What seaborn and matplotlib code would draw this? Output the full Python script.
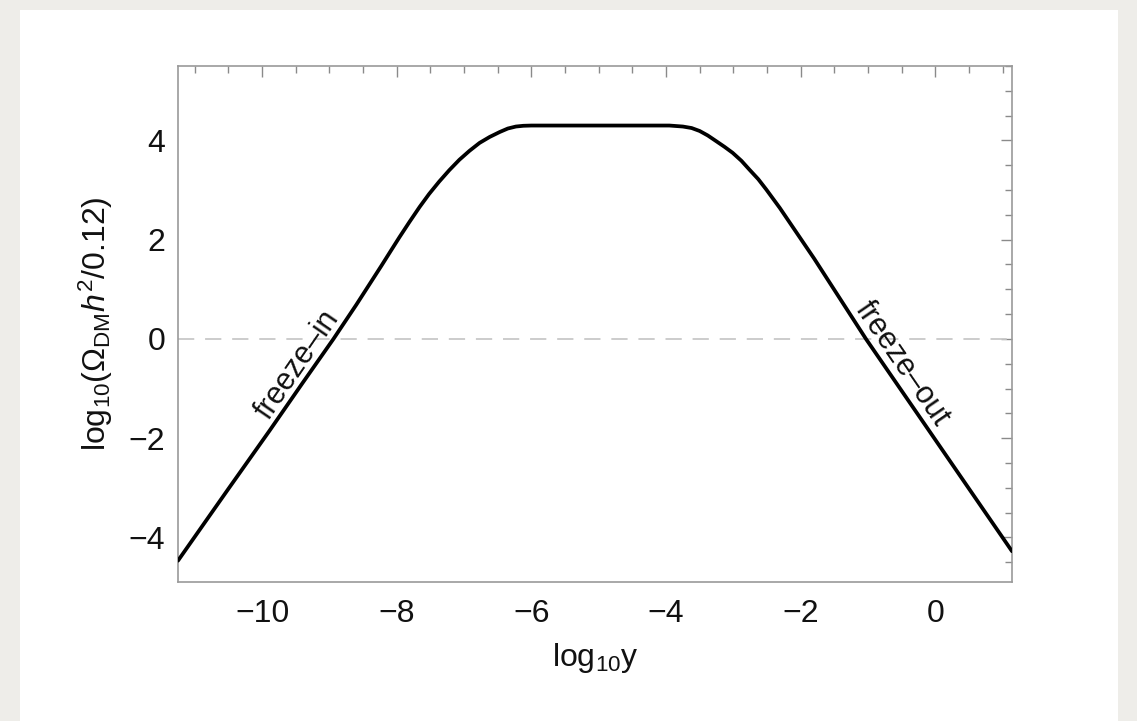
import matplotlib
matplotlib.use("Agg")
import matplotlib.pyplot as plt
from matplotlib.patches import Rectangle
from matplotlib.ticker import MultipleLocator, FixedLocator
import seaborn as sns

# Relic abundance curve: log10(Omega h^2 / 0.12) versus log10 y
log_y = [-11.25, -10.50, -9.89, -9.40, -8.94, -8.60, -8.23, -8.10, -7.96,
         -7.81, -7.66, -7.52, -7.37, -7.22, -7.07, -6.92, -6.77, -6.62,
         -6.47, -6.35, -6.23, -6.12, -6.00, -3.95, -3.75, -3.62, -3.50,
         -3.38, -3.26, -3.13, -3.01, -2.88, -2.76, -2.63, -2.51, -2.31,
         -2.12, -1.80, -1.03, 1.14]
log_omega = [-4.47, -3.02, -1.85, -0.89, 0.00, 0.69, 1.47, 1.75, 2.05,
             2.36, 2.66, 2.92, 3.17, 3.40, 3.61, 3.79, 3.95, 4.07,
             4.17, 4.24, 4.28, 4.295, 4.30, 4.30, 4.28, 4.25, 4.19,
             4.10, 3.99, 3.87, 3.75, 3.59, 3.41, 3.22, 3.01, 2.64,
             2.26, 1.62, 0.00, -4.28]

x_major = [-10, -8, -6, -4, -2, 0]
y_major = [-4, -2, 0, 2, 4]
regime_labels = ["freeze\u2013in", "freeze\u2013out"]
regime_pos = [(-9.47, -0.52), (-0.50, -0.50)]
regime_rot = [55.5, -55.5]

sns.set_theme(style="white")
plt.rcParams["font.family"] = ["Liberation Sans", "DejaVu Sans"]
plt.rcParams["mathtext.fontset"] = "custom"
plt.rcParams["mathtext.rm"] = "Liberation Sans"
plt.rcParams["mathtext.it"] = "Liberation Sans:italic"
plt.rcParams["mathtext.bf"] = "Liberation Sans:bold"

W, H = 1137, 721
fig = plt.figure(figsize=(W / 100, H / 100), dpi=100, facecolor="#eeede9")
fig.patches.append(Rectangle((20 / W, 0), (1118 - 20) / W, (H - 10) / H,
                             transform=fig.transFigure, facecolor="white",
                             edgecolor="none", zorder=-5))

ax = fig.add_axes([178 / W, 1 - 582 / H, (1012 - 178) / W, (582 - 66) / H])
ax.set_zorder(2)
ax.set_facecolor("white")

ax.axhline(0, color="#c8c8c8", lw=1.3, dashes=(9, 6), zorder=1)
sns.lineplot(x=log_y, y=log_omega, color="black", linewidth=2.7,
             estimator=None, sort=False, ax=ax, zorder=3)

for txt, (tx, ty), rot in zip(regime_labels, regime_pos, regime_rot):
    ax.text(tx, ty, txt, rotation=rot, rotation_mode="anchor",
            ha="center", va="center", fontsize=22, color="#111111")

ax.set_xlim(-11.25, 1.14)
ax.set_ylim(-4.9, 5.5)
ax.xaxis.set_major_locator(FixedLocator(x_major))
ax.yaxis.set_major_locator(FixedLocator(y_major))
ax.xaxis.set_minor_locator(MultipleLocator(0.5))
ax.yaxis.set_minor_locator(MultipleLocator(0.5))

ax.tick_params(which="both", direction="in", top=True, right=True,
               color="#8a8a8a", width=1.0)
ax.tick_params(which="major", length=8, labelsize=23, pad=9,
               labelcolor="#111111")
ax.tick_params(axis="x", which="major", pad=12)
ax.tick_params(which="minor", length=5)

for sp in ax.spines.values():
    sp.set_visible(True)
    sp.set_color("#9a9a9a")
    sp.set_linewidth(1.2)

ax.set_xlabel(r"log$_{10}$y", fontsize=23, color="#111111", labelpad=9)
ax.set_ylabel(r"log$_{10}$($\Omega_{\mathrm{DM}}$$\mathit{h}^{2}$/0.12)",
              fontsize=23, color="#111111", labelpad=10)

fig.savefig("out.png", dpi=100, facecolor=fig.get_facecolor())
